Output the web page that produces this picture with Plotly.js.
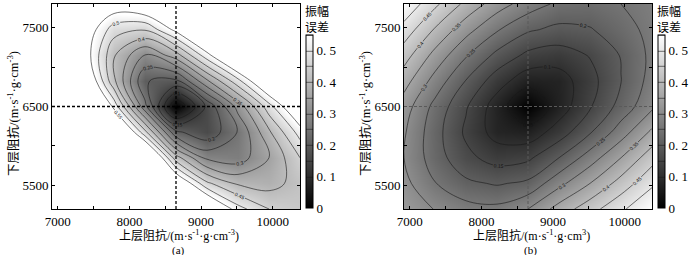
<!DOCTYPE html>
<html>
<head>
<meta charset="utf-8">
<script src="https://cdn.plot.ly/plotly-3.0.1.min.js"></script>
<style>html,body{margin:0;padding:0;background:#fff;}#chart{width:700px;height:255px;}</style>
</head>
<body>
<div id="chart"></div>
<script>
// Grid of upper-layer impedance (x) and lower-layer impedance (y)
const upperImpedance = [6920, 7352.5, 7785, 8217.5, 8650, 9082.5, 9515, 9947.5, 10380];
const lowerImpedance = [5200, 5525, 5850, 6175, 6500, 6825, 7150, 7475, 7800];

// Amplitude error, panel (a); rows follow lowerImpedance, columns follow upperImpedance
const errorA = [
  [1.86, 1.68, 1.42, 1.14, 0.844, 0.667, 0.52, 0.45, 0.43],
  [1.68, 1.39, 1.19, 0.946, 0.633, 0.46, 0.392, 0.38, 0.42],
  [1.42, 1.2, 0.93, 0.71, 0.422, 0.287, 0.272, 0.35, 0.45],
  [1.21, 0.956, 0.711, 0.465, 0.211, 0.16, 0.253, 0.391, 0.521],
  [1.07, 0.799, 0.533, 0.266, 0, 0.16, 0.319, 0.479, 0.639],
  [0.909, 0.653, 0.411, 0.202, 0.189, 0.342, 0.484, 0.646, 0.813],
  [0.822, 0.598, 0.405, 0.298, 0.377, 0.53, 0.684, 0.823, 0.968],
  [0.786, 0.607, 0.472, 0.454, 0.566, 0.706, 0.874, 1.03, 1.17],
  [0.809, 0.662, 0.596, 0.623, 0.754, 0.878, 1.06, 1.22, 1.37]
];

// Amplitude error, panel (b)
const errorB = [
  [0.33, 0.298, 0.269, 0.263, 0.30, 0.37, 0.43, 0.49, 0.55],
  [0.315, 0.252, 0.21, 0.195, 0.21, 0.285, 0.35, 0.42, 0.49],
  [0.30, 0.224, 0.163, 0.13, 0.14, 0.20, 0.275, 0.35, 0.43],
  [0.306, 0.22, 0.141, 0.079, 0.069, 0.123, 0.195, 0.275, 0.36],
  [0.325, 0.235, 0.155, 0.075, 0, 0.073, 0.145, 0.218, 0.29],
  [0.371, 0.281, 0.198, 0.123, 0.069, 0.076, 0.132, 0.199, 0.269],
  [0.422, 0.334, 0.255, 0.187, 0.138, 0.126, 0.153, 0.203, 0.262],
  [0.48, 0.395, 0.319, 0.255, 0.207, 0.188, 0.196, 0.229, 0.265],
  [0.543, 0.461, 0.387, 0.324, 0.276, 0.24, 0.235, 0.25, 0.27]
];

// True model values (dashed cross-hair)
const trueUpper = 8650;
const trueLower = 6500;

// Axis ticks
const xTickVals = [7000, 8000, 9000, 10000];
const xMinorVals = [7500, 8500, 9500];
const yTickVals = [5500, 6500, 7500];
const yMinorVals = [6000, 7000];
const cbTickVals = [0, 0.1, 0.2, 0.3, 0.4, 0.5];
const cbTickText = ['0', '0.\u00a01', '0.\u00a02', '0.\u00a03', '0.\u00a04', '0.\u00a05'];
const xRange = [6920, 10380];
const yRange = [5200, 7800];

const W = 700, H = 255;
const px = v => v / W;
const py = v => 1 - v / H;
const serif = '"Liberation Serif", "Noto Sans CJK SC", serif';

function contourTrace(z, xa, ya, cbx) {
  return {
    type: 'contour',
    x: upperImpedance,
    y: lowerImpedance,
    z: z,
    xaxis: xa,
    yaxis: ya,
    zmin: 0,
    zmax: 0.55,
    zauto: false,
    autocontour: false,
    colorscale: [[0, '#000000'], [1, '#ffffff']],
    contours: {
      start: 0.05, end: 0.55, size: 0.05,
      coloring: 'heatmap',
      showlabels: true,
      labelfont: { size: 5, color: '#111', family: 'Liberation Sans, sans-serif' },
      labelformat: '.2~f'
    },
    line: { color: '#1a1a1a', width: 0.6, smoothing: 1 },
    hoverinfo: 'skip',
    colorbar: {
      x: cbx, xanchor: 'left', xpad: 0,
      y: py(208), yanchor: 'bottom', ypad: 0,
      len: 173 / H, lenmode: 'fraction',
      thickness: 7, thicknessmode: 'pixels',
      outlinewidth: 1, outlinecolor: '#000',
      tickmode: 'array', tickvals: cbTickVals, ticktext: cbTickText,
      ticks: '', tickfont: { family: serif, size: 13, color: '#000' },
      ticklabelpad: 2
    }
  };
}

function axis(domain, anchor, range, major, minor) {
  return {
    domain: domain, anchor: anchor, range: range,
    tickmode: 'array', tickvals: major, tickformat: 'd',
    ticks: 'inside', ticklen: 3, tickwidth: 1, tickcolor: '#000',
    minor: { tickmode: 'array', tickvals: minor, ticks: 'inside', ticklen: 3, tickwidth: 1, tickcolor: '#000', showgrid: false },
    showline: true, mirror: 'ticks', linecolor: '#000', linewidth: 1,
    showgrid: false, zeroline: false,
    tickfont: { family: serif, size: 13, color: '#000' }
  };
}

const yDom = [py(209), py(4)];
const data = [
  contourTrace(errorA, 'x', 'y', px(306)),
  contourTrace(errorB, 'x2', 'y2', px(658))
];

function cross(xref, yref, color, width) {
  return [
    { type: 'line', xref: xref, yref: yref + ' domain', x0: trueUpper, x1: trueUpper, y0: 0, y1: 1,
      line: { color: color, width: width, dash: '3px,2px' } },
    { type: 'line', xref: xref + ' domain', yref: yref, x0: 0, x1: 1, y0: trueLower, y1: trueLower,
      line: { color: color, width: width, dash: '3px,2px' } }
  ];
}

function ann(text, x, y, size, angle) {
  return { text: text, xref: 'paper', yref: 'paper', x: px(x), y: py(y), showarrow: false,
    xanchor: 'center', yanchor: 'middle', textangle: angle || 0,
    font: { family: serif, size: size, color: '#000' } };
}

const xt = '上层阻抗/(m·s<sup>-1</sup>·g·cm<sup>-3</sup>)';
const xt2 = '上层阻抗/(m·s<sup>-1</sup>·g·cm<sup>3</sup>)';
const yt = '下层阻抗/(m·s<sup>-1</sup>·g·cm<sup>-3</sup>)';

const layout = {
  width: W, height: H,
  margin: { l: 0, r: 0, t: 0, b: 0 },
  paper_bgcolor: '#fff', plot_bgcolor: '#fff',
  showlegend: false,
  font: { family: serif, color: '#000' },
  xaxis: axis([px(52), px(300)], 'y', xRange, xTickVals, xMinorVals),
  yaxis: axis(yDom, 'x', yRange, yTickVals, yMinorVals),
  xaxis2: axis([px(404), px(652)], 'y2', xRange, xTickVals, xMinorVals),
  yaxis2: axis(yDom, 'x2', yRange, yTickVals, yMinorVals),
  shapes: [].concat(cross('x', 'y', '#000', 1.3), cross('x2', 'y2', '#5a5a5a', 1)),
  annotations: [
    ann(xt, 179, 235.5, 12),
    ann(xt2, 531, 235.5, 12),
    ann('(a)', 178, 250, 11),
    ann('(b)', 530, 250, 11),
    ann(yt, 13, 114, 12.5, -90),
    ann(yt, 365, 114, 12.5, -90),
    ann('振幅<br>误差', 317, 20, 12),
    ann('振幅<br>误差', 669, 20, 12)
  ]
};

Plotly.newPlot('chart', data, layout, { staticPlot: true, displayModeBar: false });
</script>
</body>
</html>
